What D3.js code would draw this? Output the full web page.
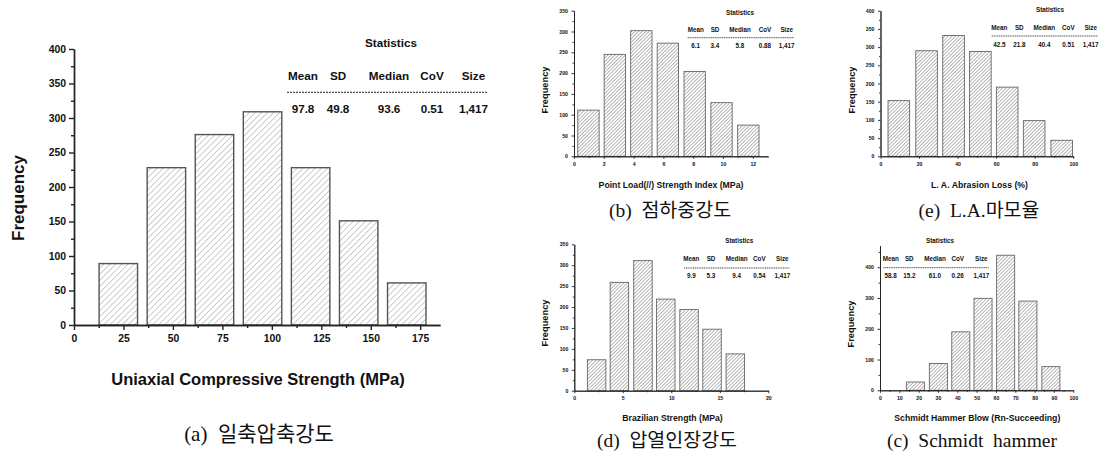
<!DOCTYPE html>
<html><head><meta charset="utf-8">
<script src="https://cdn.jsdelivr.net/npm/d3@7"></script>
<style>body{margin:0;background:#fff} svg{display:block}</style>
</head><body>
<svg id="c" width="1103" height="451"></svg>
<script>
// ---------------- DATA ----------------
const statHeaders = ["Mean", "SD", "Median", "CoV", "Size"];

// (a) Uniaxial compressive strength
const ucsBinCenters = [22.4, 46.7, 71.0, 95.3, 119.6, 143.9, 168.2];
const ucsBinWidth = 24.3;
const ucsFreq = [89, 228, 276, 309, 228, 151, 61];
const ucsStats = ["97.8", "49.8", "93.6", "0.51", "1,417"];
const ucsXTicks = [0, 25, 50, 75, 100, 125, 150, 175];
const ucsYTicks = [0, 50, 100, 150, 200, 250, 300, 350, 400];

// (b) Point load strength index
const plBinCenters = [0.97, 2.74, 4.52, 6.3, 8.1, 9.9, 11.7];
const plBinWidth = 1.79;
const plFreq = [111, 245, 302, 272, 204, 129, 75];
const plStats = ["6.1", "3.4", "5.8", "0.88", "1,417"];
const plXTicks = [0, 2, 4, 6, 8, 10, 12];
const plYTicks = [0, 50, 100, 150, 200, 250, 300, 350];

// (e) L.A. abrasion loss
const laBinCenters = [9.5, 23.9, 37.9, 51.8, 65.7, 79.7, 94.0];
const laBinWidth = 14.0;
const laFreq = [153, 290, 332, 288, 190, 98, 44];
const laStats = ["42.5", "21.8", "40.4", "0.51", "1,417"];
const laXTicks = [0, 20, 40, 60, 80, 100];
const laYTicks = [0, 50, 100, 150, 200, 250, 300, 350, 400];

// (d) Brazilian strength
const bzBinCenters = [2.3, 4.65, 7.08, 9.43, 11.83, 14.2, 16.6];
const bzBinWidth = 2.38;
const bzFreq = [74, 259, 311, 219, 194, 147, 88];
const bzStats = ["9.9", "5.3", "9.4", "0.54", "1,417"];
const bzXTicks = [0, 5, 10, 15, 20];
const bzYTicks = [0, 50, 100, 150, 200, 250, 300, 350];

// (c) Schmidt hammer
const shBinCenters = [18.3, 30.2, 41.8, 53.3, 65.0, 76.5, 88.4];
const shBinWidth = 11.68;
const shFreq = [27, 87, 190, 299, 439, 290, 77];
const shStats = ["58.8", "15.2", "61.0", "0.26", "1,417"];
const shXTicks = [0, 10, 20, 30, 40, 50, 60, 70, 80, 90, 100];
const shYTicks = [0, 100, 200, 300, 400];

// ---------------- DRAWING ----------------
const svg = d3.select("#c");
const SANS = "'Liberation Sans', Arial, sans-serif";
const SERIF = "'Liberation Serif', 'Times New Roman', 'Noto Sans CJK KR', serif";

const defs = svg.append("defs");
function hatch(id, gap, color, w) {
  const p = defs.append("pattern").attr("id", id).attr("patternUnits", "userSpaceOnUse")
    .attr("width", gap).attr("height", gap).attr("patternTransform", "rotate(45)");
  p.append("rect").attr("width", gap).attr("height", gap).attr("fill", "#fff");
  p.append("line").attr("x1", gap / 2).attr("y1", 0).attr("x2", gap / 2).attr("y2", gap)
    .attr("stroke", color).attr("stroke-width", w);
}
hatch("hBig", 4.3, "#b8b8b8", 0.7);
hatch("hSmall", 2.5, "#8a8a8a", 0.6);

function minorOf(ticks, extraEnd) {
  const out = [];
  for (let i = 0; i < ticks.length - 1; i++) out.push((ticks[i] + ticks[i + 1]) / 2);
  if (extraEnd !== undefined) out.push(extraEnd);
  return out;
}

function panel(o) {
  const g = svg.append("g");
  const x = d3.scaleLinear().domain(o.xDomain).range([o.left, o.right]);
  const y = d3.scaleLinear().domain(o.yDomain).range([o.bottom, o.top]);

  // bars
  g.selectAll("rect.bar").data(o.centers.map((c, i) => ({ c, v: o.freq[i] })))
    .enter().append("rect").attr("class", "bar")
    .attr("x", d => x(d.c - o.binWidth * 0.4))
    .attr("width", d => x(d.c + o.binWidth * 0.4) - x(d.c - o.binWidth * 0.4))
    .attr("y", d => y(d.v))
    .attr("height", d => y(0) - y(d.v))
    .attr("fill", `url(#${o.hatch})`)
    .attr("stroke", o.barStroke).attr("stroke-width", o.barW);

  // axes
  const styleAxis = (sel, fs) => {
    sel.selectAll("path,line").attr("stroke", "#222").attr("stroke-width", o.axisW);
    sel.selectAll("text").attr("font-family", SANS).attr("font-weight", "bold")
      .attr("font-size", fs).attr("fill", "#111");
  };
  const xMinorAx = g.append("g").attr("transform", `translate(0,${o.bottom})`)
    .call(d3.axisBottom(x).tickValues(o.xMinor).tickSize(o.minorLen).tickSizeOuter(0).tickFormat(""));
  styleAxis(xMinorAx, o.tickFs);
  const xAx = g.append("g").attr("transform", `translate(0,${o.bottom})`)
    .call(d3.axisBottom(x).tickValues(o.xTicks).tickSize(o.majorLen).tickSizeOuter(0)
      .tickPadding(o.xPad).tickFormat(d3.format("d")));
  styleAxis(xAx, o.tickFs);
  const yMinorAx = g.append("g").attr("transform", `translate(${o.left},0)`)
    .call(d3.axisLeft(y).tickValues(o.yMinor).tickSize(o.minorLen).tickSizeOuter(0).tickFormat(""));
  styleAxis(yMinorAx, o.tickFs);
  const yAx = g.append("g").attr("transform", `translate(${o.left},0)`)
    .call(d3.axisLeft(y).tickValues(o.yTicks).tickSize(o.majorLen).tickSizeOuter(0)
      .tickPadding(o.yPad).tickFormat(d3.format("d")));
  styleAxis(yAx, o.tickFs);

  // y title
  g.append("text").attr("transform", `translate(${o.yTitle[0]},${o.yTitle[1]}) rotate(-90)`)
    .attr("text-anchor", "middle").attr("dominant-baseline", "central")
    .attr("font-family", SANS).attr("font-weight", "bold").attr("font-size", o.yTitleFs)
    .attr("fill", "#111").text("Frequency");
  // x title
  g.append("text").attr("x", o.xTitle[0]).attr("y", o.xTitle[1]).attr("text-anchor", "middle")
    .attr("font-family", SANS).attr("font-weight", "bold").attr("font-size", o.xTitleFs)
    .attr("fill", "#111").text(o.xLabel);
  // caption
  g.append("text").attr("x", o.cap[0]).attr("y", o.cap[1]).attr("text-anchor", "middle")
    .attr("font-family", SERIF).attr("font-size", o.capFs).attr("fill", "#111")
    .style("white-space", "pre").text(o.caption);

  // statistics table
  const t = o.table;
  const tg = g.append("g").attr("font-family", SANS).attr("font-weight", "bold")
    .attr("font-size", t.fs).attr("fill", "#111").attr("text-anchor", "middle");
  tg.append("text").attr("x", t.title[0]).attr("y", t.title[1]).text("Statistics");
  tg.selectAll("text.h").data(statHeaders).enter().append("text").attr("class", "h")
    .attr("x", (d, i) => t.cols[i]).attr("y", t.hy).text(d => d);
  tg.selectAll("text.v").data(o.stats).enter().append("text").attr("class", "v")
    .attr("x", (d, i) => t.cols[i]).attr("y", t.vy).text(d => d);
  tg.append("line").attr("x1", t.line[0]).attr("x2", t.line[1]).attr("y1", t.ly).attr("y2", t.ly)
    .attr("stroke", "#222").attr("stroke-width", t.lw).attr("stroke-dasharray", t.dash);
}

// (a)
panel({
  centers: ucsBinCenters, binWidth: ucsBinWidth, freq: ucsFreq, stats: ucsStats,
  xDomain: [0, 185], yDomain: [0, 400], left: 74, right: 440, bottom: 325, top: 49,
  xTicks: ucsXTicks, xMinor: minorOf(ucsXTicks), yTicks: ucsYTicks, yMinor: minorOf(ucsYTicks),
  hatch: "hBig", barStroke: "#555", barW: 1.4, axisW: 1.4, majorLen: 5, minorLen: 3,
  xPad: 5, yPad: 3, tickFs: 10.4,
  yTitle: [18, 198], yTitleFs: 17, xTitle: [258, 385], xTitleFs: 16.5,
  xLabel: "Uniaxial Compressive Strength (MPa)",
  cap: [259, 441], capFs: 21, caption: "(a)  일축압축강도",
  table: { fs: 11.7, title: [391, 46.5], cols: [303, 338, 389, 432, 473.5], hy: 80, vy: 113,
    line: [287, 488], ly: 92.3, lw: 1, dash: "2,1" }
});

const smallCommon = {
  hatch: "hSmall", barStroke: "#666", barW: 0.9, axisW: 0.9, majorLen: 2.5, minorLen: 1.5,
  xPad: 3.5, yPad: 3.5, tickFs: 5.2, yTitleFs: 9.3, xTitleFs: 8.7, capFs: 19.5
};

// (b)
panel(Object.assign({}, smallCommon, {
  centers: plBinCenters, binWidth: plBinWidth, freq: plFreq, stats: plStats,
  xDomain: [0, 13], yDomain: [0, 350], left: 574, right: 767.7, bottom: 156.3, top: 10.7,
  xTicks: plXTicks, xMinor: minorOf(plXTicks, 13), yTicks: plYTicks, yMinor: minorOf(plYTicks),
  yTitle: [545, 90], xTitle: [671, 188], xLabel: "Point Load(//) Strength Index (MPa)",
  cap: [670, 217], caption: "(b)  점하중강도",
  table: { fs: 6.3, title: [740, 14.5], cols: [695.7, 715, 740, 765, 786.7], hy: 31.5, vy: 48.2,
    line: [687.7, 794], ly: 37.7, lw: 0.8, dash: "1.2,0.6" }
}));

// (e)
panel(Object.assign({}, smallCommon, {
  centers: laBinCenters, binWidth: laBinWidth, freq: laFreq, stats: laStats,
  xDomain: [0, 100], yDomain: [0, 400], left: 880.5, right: 1073.3, bottom: 156.3, top: 10.7,
  xTicks: laXTicks, xMinor: minorOf(laXTicks), yTicks: laYTicks, yMinor: minorOf(laYTicks),
  yTitle: [851.7, 90], xTitle: [979.5, 187.5], xLabel: "L. A. Abrasion Loss (%)",
  cap: [979, 217], caption: "(e)  L.A.마모율",
  table: { fs: 6.3, title: [1050, 12.2], cols: [999.3, 1019.3, 1044.3, 1068.3, 1090.7], hy: 30.2, vy: 46.5,
    line: [991.7, 1098], ly: 36, lw: 0.8, dash: "1.2,0.6" }
}));

// (d)
panel(Object.assign({}, smallCommon, {
  centers: bzBinCenters, binWidth: bzBinWidth, freq: bzFreq, stats: bzStats,
  xDomain: [0, 20], yDomain: [0, 350], left: 574.3, right: 768.3, bottom: 390.7, top: 244.3,
  xTicks: bzXTicks, xMinor: minorOf(bzXTicks), yTicks: bzYTicks, yMinor: minorOf(bzYTicks),
  yTitle: [545, 323], xTitle: [672.5, 420.7], xLabel: "Brazilian Strength (MPa)",
  cap: [667, 447], caption: "(d)  압열인장강도",
  table: { fs: 6.3, title: [739.3, 243.2], cols: [691.3, 711, 736.7, 759.3, 782.3], hy: 260.9, vy: 278.2,
    line: [684, 789.3], ly: 268, lw: 0.8, dash: "1.2,0.6" }
}));

// (c)
panel(Object.assign({}, smallCommon, {
  centers: shBinCenters, binWidth: shBinWidth, freq: shFreq, stats: shStats,
  xDomain: [0, 100], yDomain: [0, 470], left: 880, right: 1073.3, bottom: 390.3, top: 245.7,
  xTicks: shXTicks, xMinor: minorOf(shXTicks), yTicks: shYTicks, yMinor: minorOf(shYTicks, 450),
  yTitle: [851, 324], xTitle: [977.3, 420.7], xLabel: "Schmidt Hammer Blow (Rn-Succeeding)",
  cap: [972, 447], caption: "(c)  Schmidt  hammer",
  table: { fs: 6.3, title: [940, 243.2], cols: [890.7, 909.3, 935, 957.7, 981.3], hy: 260.9, vy: 278.2,
    line: [883.3, 988.7], ly: 267.7, lw: 0.8, dash: "1.2,0.6" }
}));
</script>
</body></html>
